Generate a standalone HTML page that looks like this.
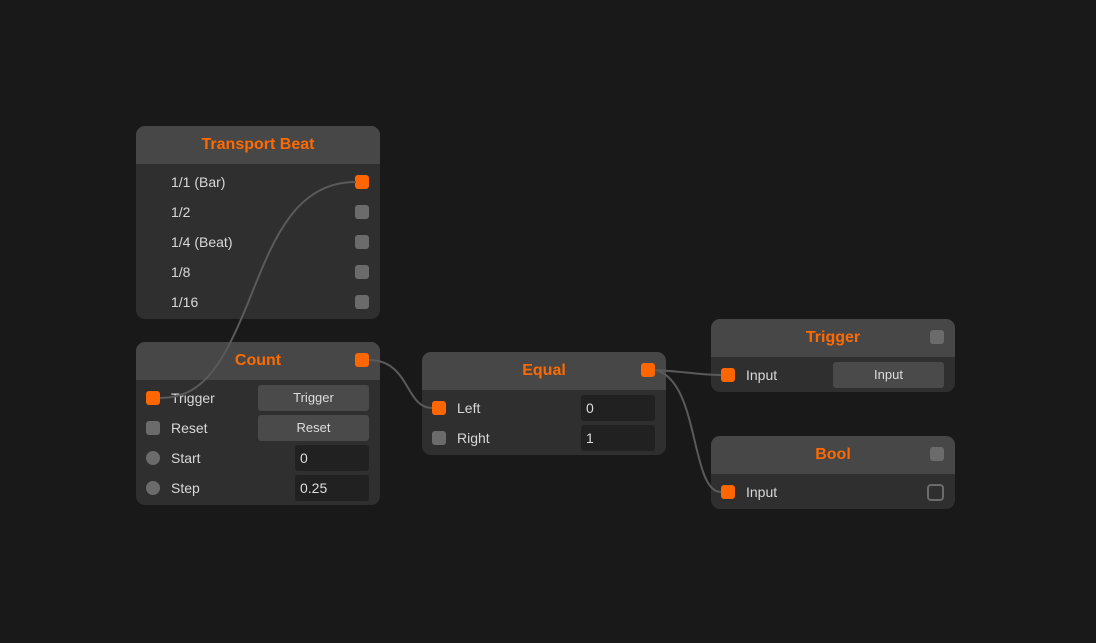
<!DOCTYPE html>
<html><head><style>
body{margin:0;width:1096px;height:643px;background:#191919;position:relative;overflow:hidden;font-family:"Liberation Sans","DejaVu Sans",sans-serif;color:#d8d8d8;font-size:14px}
.n{position:absolute;background:#2f2f2f;border-radius:9px;overflow:hidden}
.h{height:38px;background:#474747;color:#ff6a00;font-weight:bold;font-size:16px;text-align:center;line-height:37px;position:relative}
.p{position:absolute;width:14px;height:14px;border-radius:3px;background:#6b6b6b}
.o{background:#ff6600}
.c{border-radius:50%}
.t{position:absolute;line-height:20px}
.b{position:absolute;background:#4a4a4a;border-radius:3px;height:26px;line-height:26px;text-align:center;font-size:13px;color:#ddd}
.i{position:absolute;background:#212121;border-radius:3px;height:26px;line-height:26px;padding-left:5px;box-sizing:border-box;color:#ddd}
</style></head><body>
<div class="n" style="left:136px;top:126px;width:244px;height:193px">
<div class="h">Transport Beat</div>
<div class="t" style="left:35px;top:46px">1/1 (Bar)</div><div class="p o" style="left:219px;top:49px"></div>
<div class="t" style="left:35px;top:76px">1/2</div><div class="p" style="left:219px;top:79px"></div>
<div class="t" style="left:35px;top:106px">1/4 (Beat)</div><div class="p" style="left:219px;top:109px"></div>
<div class="t" style="left:35px;top:136px">1/8</div><div class="p" style="left:219px;top:139px"></div>
<div class="t" style="left:35px;top:166px">1/16</div><div class="p" style="left:219px;top:169px"></div>
</div>
<div class="n" style="left:136px;top:342px;width:244px;height:163px">
<div class="h">Count<div class="p o" style="left:219px;top:11px"></div></div>
<div class="p o" style="left:10px;top:49px"></div><div class="t" style="left:35px;top:46px">Trigger</div><div class="b" style="left:122px;top:43px;width:111px">Trigger</div>
<div class="p" style="left:10px;top:79px"></div><div class="t" style="left:35px;top:76px">Reset</div><div class="b" style="left:122px;top:73px;width:111px">Reset</div>
<div class="p c" style="left:10px;top:109px"></div><div class="t" style="left:35px;top:106px">Start</div><div class="i" style="left:159px;top:103px;width:74px">0</div>
<div class="p c" style="left:10px;top:139px"></div><div class="t" style="left:35px;top:136px">Step</div><div class="i" style="left:159px;top:133px;width:74px">0.25</div>
</div>
<div class="n" style="left:422px;top:352px;width:244px;height:103px">
<div class="h">Equal<div class="p o" style="left:219px;top:11px"></div></div>
<div class="p o" style="left:10px;top:49px"></div><div class="t" style="left:35px;top:46px">Left</div><div class="i" style="left:159px;top:43px;width:74px">0</div>
<div class="p" style="left:10px;top:79px"></div><div class="t" style="left:35px;top:76px">Right</div><div class="i" style="left:159px;top:73px;width:74px">1</div>
</div>
<div class="n" style="left:711px;top:319px;width:244px;height:73px">
<div class="h">Trigger<div class="p" style="left:219px;top:11px"></div></div>
<div class="p o" style="left:10px;top:49px"></div><div class="t" style="left:35px;top:46px">Input</div><div class="b" style="left:122px;top:43px;width:111px">Input</div>
</div>
<div class="n" style="left:711px;top:436px;width:244px;height:73px">
<div class="h">Bool<div class="p" style="left:219px;top:11px"></div></div>
<div class="p o" style="left:10px;top:49px"></div><div class="t" style="left:35px;top:46px">Input</div>
<div style="position:absolute;left:216px;top:48px;width:13px;height:13px;border:2px solid #6b6b6b;border-radius:4px"></div>
</div>
<svg width="1096" height="643" style="position:absolute;left:0;top:0" fill="none" stroke="#5a5a5a" stroke-width="2">
<path d="M356,182 C290,182 270,250 245,310 C220,370 200,398 160,398"/>
<path d="M369,360 C410,360 405,408 432,408"/>
<path d="M655,370 C690,372 700,375 721,375"/>
<path d="M655,370 C700,380 690,492 721,492"/>
</svg>
</body></html>
